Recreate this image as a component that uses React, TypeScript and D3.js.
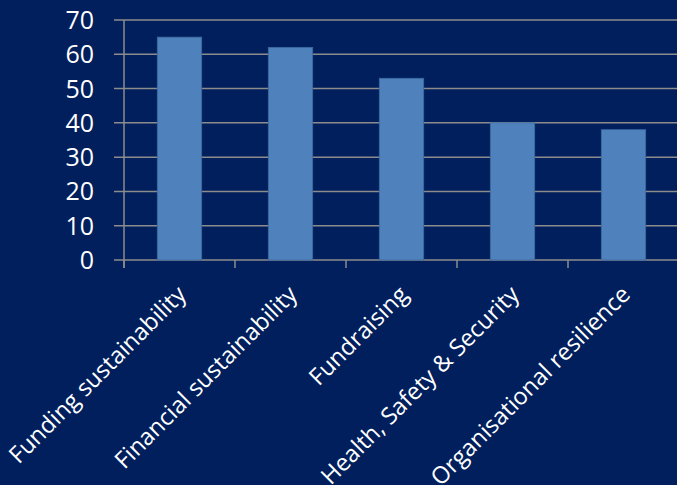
import React from "react";
import * as d3 from "d3";

const categories = [
  "Funding sustainability",
  "Financial sustainability",
  "Fundraising",
  "Health, Safety & Security",
  "Organisational resilience",
];
const values = [65, 62, 53, 40, 38];
const yTicks = [0, 10, 20, 30, 40, 50, 60, 70];

const W = 677;
const H = 485;
const left = 124;
const right = 679;
const top = 20;
const bottom = 260;

export default function App() {
  const x = d3.scaleBand<string>().domain(categories).range([left, right]).padding(0);
  const y = d3.scaleLinear().domain([0, 70]).range([bottom, top]);
  const bw = x.bandwidth() * 0.4;
  const font = "'Open Sans', 'Noto Sans', sans-serif";
  return (
    <svg width={W} height={H} style={{ position: "absolute", left: 0, top: 0, display: "block" }}>
      <rect x={0} y={0} width={W} height={H} fill="#001f5c" />
      {yTicks.map((t) => (
        <g key={t}>
          <line x1={114} x2={W} y1={y(t)} y2={y(t)} stroke="#8c8c8c" strokeWidth={1.5} />
          <text
            x={94}
            y={y(t)}
            dy="0.36em"
            textAnchor="end"
            fill="#ffffff"
            fontFamily={font}
            fontSize={25}
          >
            {t}
          </text>
        </g>
      ))}
      <line x1={left} x2={left} y1={top} y2={bottom + 8} stroke="#8c8c8c" strokeWidth={1.5} />
      {categories.map((c, i) => (
        <g key={c}>
          <line
            x1={x(c)!}
            x2={x(c)!}
            y1={bottom}
            y2={bottom + 8}
            stroke="#8c8c8c"
            strokeWidth={1.5}
          />
          <rect
            x={x(c)! + x.bandwidth() / 2 - bw / 2}
            y={y(values[i])}
            width={bw}
            height={bottom - y(values[i])}
            fill="#4f81bd"
            stroke="#3e6aa0"
            strokeWidth={0.8}
          />
          <text
            transform={`translate(${x(c)! + x.bandwidth() / 2 + 8},${bottom + 36}) rotate(-45)`}
            textAnchor="end"
            fill="#ffffff"
            fontFamily={font}
            fontSize={23.5}
          >
            {c}
          </text>
        </g>
      ))}
      <line x1={x(categories[4])! + x.bandwidth()} x2={x(categories[4])! + x.bandwidth()} y1={bottom} y2={bottom + 8} stroke="#8c8c8c" strokeWidth={1.5} />
    </svg>
  );
}
